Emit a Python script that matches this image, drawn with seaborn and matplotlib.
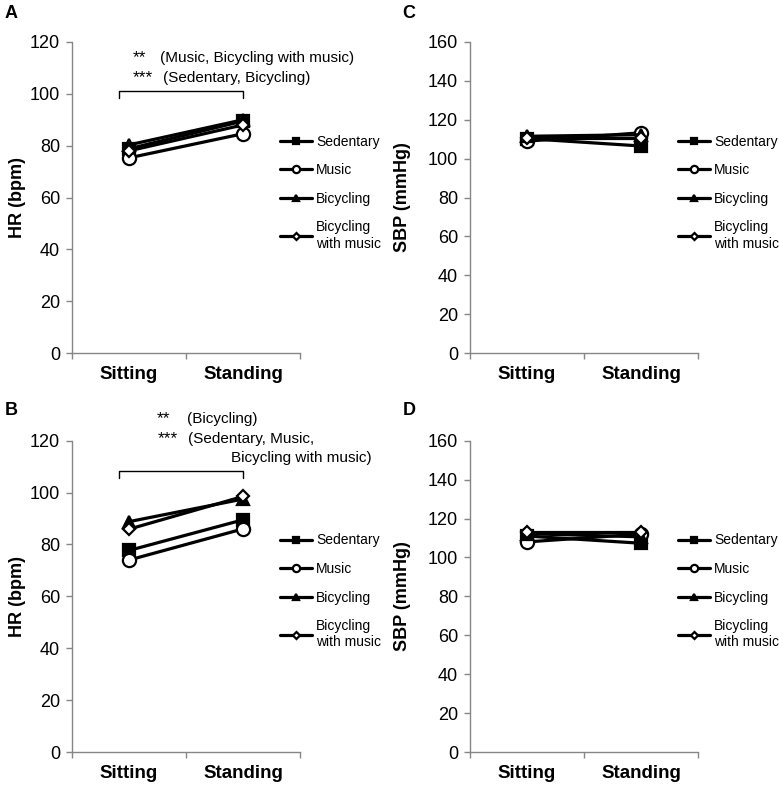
import matplotlib
matplotlib.use("Agg")
import matplotlib.pyplot as plt
import seaborn as sns
import pandas as pd

sns.set_style("ticks")
plt.rcParams['font.family'] = ['Liberation Sans', 'DejaVu Sans']
plt.rcParams['text.color'] = 'black'
plt.rcParams['axes.labelcolor'] = 'black'
plt.rcParams['xtick.labelcolor'] = 'black'
plt.rcParams['ytick.labelcolor'] = 'black'

# Dados
posicoes = ["Sitting", "Standing"]
grupos = ["Sedentary", "Music", "Bicycling", "Bicycling with music"]
rotulos_legenda = ["Sedentary", "Music", "Bicycling", "Bicycling\nwith music"]

hr_a = {
    "Sedentary": [78.8, 89.5],
    "Music": [75.3, 84.6],
    "Bicycling": [80.3, 90.0],
    "Bicycling with music": [78.0, 88.0],
}
hr_b = {
    "Sedentary": [77.7, 89.5],
    "Music": [74.0, 86.0],
    "Bicycling": [88.8, 97.5],
    "Bicycling with music": [85.9, 98.5],
}
sbp_c = {
    "Sedentary": [110.3, 106.5],
    "Music": [109.0, 113.3],
    "Bicycling": [111.5, 112.3],
    "Bicycling with music": [110.8, 110.8],
}
sbp_d = {
    "Sedentary": [111.0, 107.3],
    "Music": [108.0, 112.0],
    "Bicycling": [112.2, 110.6],
    "Bicycling with music": [113.2, 113.2],
}

marcadores = {"Sedentary": "s", "Music": "o", "Bicycling": "^",
              "Bicycling with music": "D"}
abertos = ["Music", "Bicycling with music"]
tamanhos = {"s": 9, "o": 9.5, "^": 9, "D": 6.5}

cinza = "#868686"


def montar_df(dados):
    linhas = []
    for g in grupos:
        for p, v in zip(posicoes, dados[g]):
            linhas.append({"Posicao": p, "Valor": v, "Grupo": g})
    return pd.DataFrame(linhas)


def desenhar(ax, dados, ylabel, ymax):
    df = montar_df(dados)
    sns.lineplot(data=df, x="Posicao", y="Valor", hue="Grupo", style="Grupo",
                 hue_order=grupos, style_order=grupos,
                 palette=["black"] * 4, markers=marcadores, dashes=False,
                 linewidth=2.3, markeredgecolor="black", markeredgewidth=1.6,
                 legend=False, ax=ax)
    for linha, g in zip(ax.lines, grupos):
        m = marcadores[g]
        linha.set_markersize(tamanhos[m])
        linha.set_markerfacecolor("white" if g in abertos else "black")

    ax.set_xlim(-0.5, 1.5)
    ax.set_ylim(0, ymax)
    ax.set_yticks(range(0, ymax + 1, 20))
    ax.set_xticks([0, 1])
    ax.set_xticklabels(posicoes, fontsize=13.5, fontweight="bold")
    ax.set_xticks([-0.5, 0.5, 1.5], minor=True)
    ax.tick_params(axis="x", which="major", length=0, pad=9)
    ax.tick_params(axis="x", which="minor", length=4.5, width=1, color=cinza)
    ax.tick_params(axis="y", length=4.5, width=1, color=cinza, labelsize=13, pad=4)
    ax.set_xlabel("")
    ax.set_ylabel(ylabel, fontsize=13, fontweight="bold")
    sns.despine(ax=ax)
    for lado in ["left", "bottom"]:
        ax.spines[lado].set_color(cinza)
        ax.spines[lado].set_linewidth(1)

    leg = ax.legend(handles=ax.lines[:4], labels=rotulos_legenda,
                    loc="upper left", bbox_to_anchor=(0.89, 0.72),
                    frameon=False, fontsize=10, markerscale=0.55,
                    handlelength=2.3, handletextpad=0.25, labelspacing=1.05,
                    borderaxespad=0)
    return leg


fig = plt.figure(figsize=(7.79, 7.85), dpi=100)
ax_a = fig.add_axes([0.0924, 0.5503, 0.2927, 0.3962])
ax_b = fig.add_axes([0.0924, 0.0420, 0.2927, 0.3966])
ax_c = fig.add_axes([0.6033, 0.5503, 0.2927, 0.3962])
ax_d = fig.add_axes([0.6033, 0.0420, 0.2927, 0.3966])

desenhar(ax_a, hr_a, "HR (bpm)", 120)
desenhar(ax_b, hr_b, "HR (bpm)", 120)
desenhar(ax_c, sbp_c, "SBP (mmHg)", 160)
desenhar(ax_d, sbp_d, "SBP (mmHg)", 160)

ax_a.yaxis.set_label_coords(-0.20, 0.5)
ax_b.yaxis.set_label_coords(-0.20, 0.5)
ax_c.yaxis.set_label_coords(-0.26, 0.5)
ax_d.yaxis.set_label_coords(-0.26, 0.5)

# Colchetes de significância
ax_a.plot([-0.09, -0.09, 1.0, 1.0], [98.4, 101.2, 101.2, 98.4], color="black", lw=1)
ax_b.plot([-0.09, -0.09, 1.0, 1.0], [105.6, 108.4, 108.4, 105.6], color="black", lw=1)

# Textos de significância
fs = 11
fs_ast = 12.5
fig.text(0.1707, 0.921, "**", fontsize=fs_ast)
fig.text(0.2054, 0.921, "(Music, Bicycling with music)", fontsize=fs)
fig.text(0.1707, 0.8959, "***", fontsize=fs_ast)
fig.text(0.2092, 0.8959, "(Sedentary, Bicycling)", fontsize=fs)

fig.text(0.2015, 0.4611, "**", fontsize=fs_ast)
fig.text(0.2400, 0.4611, "(Bicycling)", fontsize=fs)
fig.text(0.2028, 0.4357, "***", fontsize=fs_ast)
fig.text(0.2413, 0.4357, "(Sedentary, Music,", fontsize=fs)
fig.text(0.4775, 0.4121, "Bicycling with music)", fontsize=fs, ha="right")

# Letras dos painéis
for letra, x, y in [("A", 0.006, 0.994), ("B", 0.006, 0.488),
                    ("C", 0.517, 0.994), ("D", 0.517, 0.488)]:
    fig.text(x, y, letra, fontsize=13, fontweight="bold", va="top")

fig.savefig("out.png", dpi=100)
